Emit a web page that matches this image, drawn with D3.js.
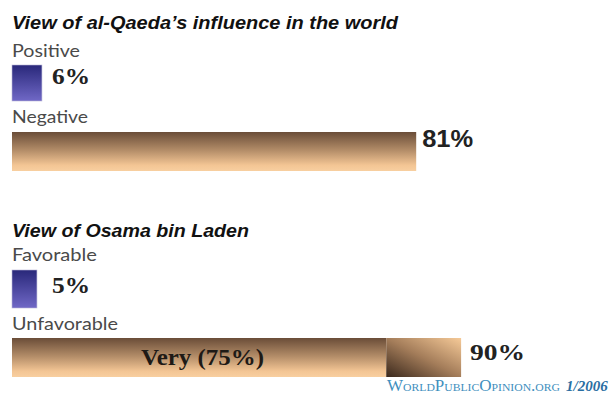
<!DOCTYPE html>
<html>
<head>
<meta charset="utf-8">
<script src="https://cdn.jsdelivr.net/npm/d3@7"></script>
<style>
  html, body { margin: 0; padding: 0; background: #fff; }
  svg { display: block; }
</style>
</head>
<body>
<svg id="chart" width="611" height="397"></svg>
<script>
// Survey results: views of al-Qaeda and Osama bin Laden
const titles = ["View of al-Qaeda\u2019s influence in the world", "View of Osama bin Laden"];
const qaedaCategories = ["Positive", "Negative"];
const qaedaValues = [6, 81];
const binLadenCategories = ["Favorable", "Unfavorable"];
const binLadenValues = [5, 90];
const veryUnfavorable = 75;
const sourceText = "WorldPublicOpinion.org";
const dateText = "1/2006";

const svg = d3.select("#chart");
const defs = svg.append("defs");

// Gradients
const blue = defs.append("linearGradient").attr("id", "gBlue")
  .attr("x1", 0).attr("y1", 0).attr("x2", 0).attr("y2", 1);
blue.append("stop").attr("offset", "0%").attr("stop-color", "#29287a");
blue.append("stop").attr("offset", "100%").attr("stop-color", "#7068c6");

const tan = defs.append("linearGradient").attr("id", "gTan")
  .attr("x1", 0).attr("y1", 0).attr("x2", 0).attr("y2", 1);
tan.append("stop").attr("offset", "0%").attr("stop-color", "#6a4d38");
tan.append("stop").attr("offset", "45%").attr("stop-color", "#b08a66");
tan.append("stop").attr("offset", "85%").attr("stop-color", "#f3c594");
tan.append("stop").attr("offset", "100%").attr("stop-color", "#f8cfa0");

const diag = defs.append("linearGradient").attr("id", "gDiag")
  .attr("x1", 0).attr("y1", 1).attr("x2", 1).attr("y2", 0);
diag.append("stop").attr("offset", "0%").attr("stop-color", "#3a281c");
diag.append("stop").attr("offset", "50%").attr("stop-color", "#a47d5a");
diag.append("stop").attr("offset", "100%").attr("stop-color", "#f6ca98");

const x = d3.scaleLinear().domain([0, 100]).range([12, 511]);

const titleFont = "'Liberation Sans', Arial, sans-serif";
const labelFont = "'Lato', 'Open Sans', sans-serif";
const valueFont = "'Liberation Serif', 'DejaVu Serif', serif";

function fitText(g, str, xPos, yPos, opts) {
  const t = g.append("text")
    .attr("x", xPos).attr("y", yPos)
    .attr("font-family", opts.family).attr("font-size", opts.size)
    .attr("fill", opts.fill || "#222")
    .text(str);
  if (opts.weight) t.attr("font-weight", opts.weight);
  if (opts.style) t.attr("font-style", opts.style);
  if (opts.anchor) t.attr("text-anchor", opts.anchor);
  if (opts.width) t.attr("textLength", opts.width).attr("lengthAdjust", "spacingAndGlyphs");
  return t;
}

function section(g, title, titleWidth, cats, labelWidths, layout) {
  fitText(g, title, x(0), layout.titleY, {
    family: titleFont, weight: "bold", style: "italic", size: 19, fill: "#111", width: titleWidth
  });
  cats.forEach((c, i) => {
    fitText(g, c, x(0), layout.labelY[i], {
      family: labelFont, size: 17, fill: "#4a4a4a", width: labelWidths[i]
    });
  });
}

// ---- Section 1 ----
const s1 = svg.append("g");
section(s1, titles[0], 386, qaedaCategories, [68, 76], { titleY: 29, labelY: [57, 123] });

s1.append("rect")
  .attr("x", x(0)).attr("y", 65)
  .attr("width", x(qaedaValues[0]) - x(0)).attr("height", 36)
  .attr("fill", "url(#gBlue)").attr("stroke", "#b8b6d8").attr("stroke-width", 0.6);
fitText(s1, qaedaValues[0] + "%", 52, 84, {
  family: valueFont, weight: "bold", size: 23, width: 38
});

s1.append("rect")
  .attr("x", x(0)).attr("y", 132)
  .attr("width", x(qaedaValues[1]) - x(0)).attr("height", 39)
  .attr("fill", "url(#gTan)");
fitText(s1, qaedaValues[1] + "%", x(qaedaValues[1]) + 6, 147, {
  family: "'Liberation Sans', Arial, sans-serif", weight: "bold", size: 23, width: 51
});

// ---- Section 2 ----
const s2 = svg.append("g");
section(s2, titles[1], 237, binLadenCategories, [85, 106], { titleY: 237, labelY: [261, 330] });

s2.append("rect")
  .attr("x", x(0)).attr("y", 270)
  .attr("width", x(binLadenValues[0]) - x(0)).attr("height", 38)
  .attr("fill", "url(#gBlue)").attr("stroke", "#b8b6d8").attr("stroke-width", 0.6);
fitText(s2, binLadenValues[0] + "%", 52, 293, {
  family: valueFont, weight: "bold", size: 23, width: 38
});

s2.append("rect")
  .attr("x", x(0)).attr("y", 338)
  .attr("width", x(veryUnfavorable) - x(0)).attr("height", 39)
  .attr("fill", "url(#gTan)");
s2.append("rect")
  .attr("x", x(veryUnfavorable)).attr("y", 338)
  .attr("width", x(binLadenValues[1]) - x(veryUnfavorable)).attr("height", 39)
  .attr("fill", "url(#gDiag)");
fitText(s2, "Very (" + veryUnfavorable + "%)", 141, 365, {
  family: valueFont, weight: "bold", size: 23, fill: "#1e1a16", width: 123
});
fitText(s2, binLadenValues[1] + "%", x(binLadenValues[1]) + 9, 360, {
  family: valueFont, weight: "bold", size: 24, width: 55
});

// Source line
const src = svg.append("text")
  .attr("x", 387).attr("y", 391)
  .attr("font-family", valueFont).attr("font-size", 16);
src.append("tspan")
  .attr("fill", "#3f8fbe").style("font-variant", "small-caps")
  .attr("textLength", 173).attr("lengthAdjust", "spacingAndGlyphs")
  .text(sourceText);
src.append("tspan")
  .attr("dx", 6).attr("fill", "#2a6ea2").attr("font-weight", "bold").attr("font-style", "italic")
  .attr("font-size", 15)
  .text(dateText);
</script>
</body>
</html>
